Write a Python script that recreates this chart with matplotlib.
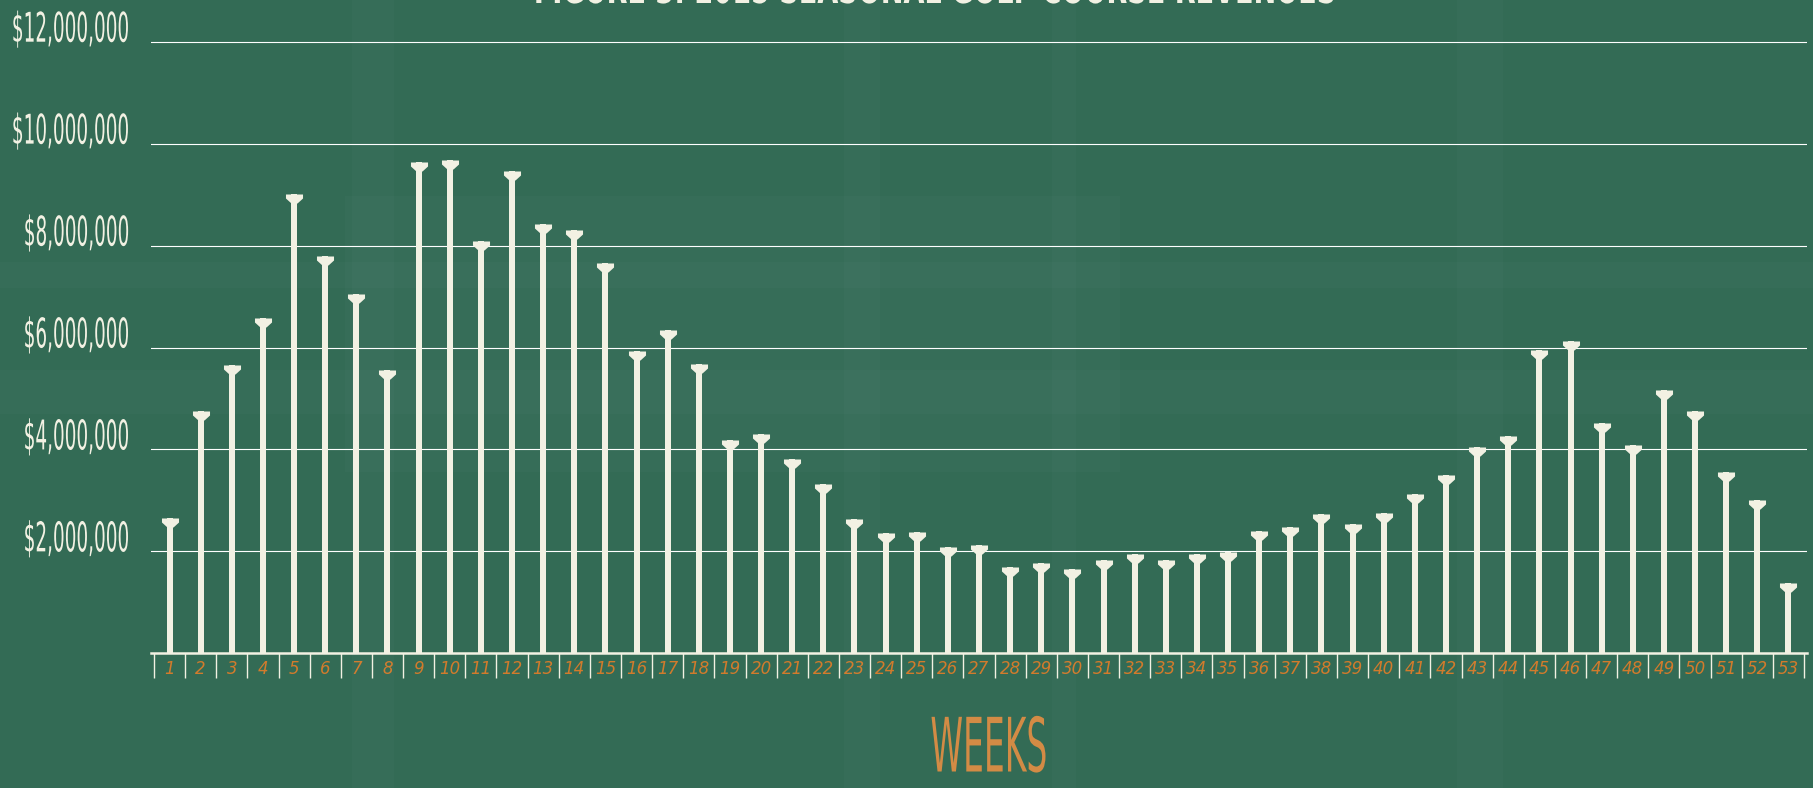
import numpy as np
import matplotlib
matplotlib.use("Agg")
import matplotlib.pyplot as plt
from matplotlib.path import Path
from matplotlib.patches import Rectangle
from matplotlib.text import Text
from matplotlib.transforms import Affine2D, Bbox
from matplotlib import patheffects

# weekly revenue, in millions of dollars
weeks = list(range(1, 54))
revenue_m = [2.65, 4.76, 5.66, 6.57, 9.01, 7.79, 7.04, 5.55, 9.63, 9.67,
             8.09, 9.47, 8.43, 8.31, 7.66, 5.93, 6.34, 5.68, 4.19, 4.30,
             3.81, 3.33, 2.63, 2.36, 2.38, 2.08, 2.13, 1.70, 1.77, 1.65,
             1.83, 1.95, 1.83, 1.95, 1.99, 2.40, 2.47, 2.74, 2.54, 2.76,
             3.13, 3.49, 4.05, 4.26, 5.96, 6.12, 4.51, 4.08, 5.16, 4.76,
             3.56, 3.01, 1.38]
revenue = np.array(revenue_m) * 1e6

y_ticks = [2e6, 4e6, 6e6, 8e6, 10e6, 12e6]
y_labels = ["$2,000,000", "$4,000,000", "$6,000,000", "$8,000,000",
            "$10,000,000", "$12,000,000"]
title = "FIGURE 3: 2015 SEASONAL GOLF COURSE REVENUES"
x_title = "WEEKS"

BG = "#336b55"
CREAM = "#f2f1e3"
ORANGE = "#d27b2c"
ORANGE_LIGHT = "#d38b45"


class Squeeze(patheffects.AbstractPathEffect):
    """Draw text glyphs narrower, keeping one side of the string fixed."""

    def __init__(self, sx, side="center"):
        super().__init__()
        self.sx = sx
        self.side = side

    def draw_path(self, renderer, gc, tpath, affine, rgbFace=None):
        if len(tpath.vertices) == 0:
            return
        xs = affine.transform(tpath.vertices)[:, 0]
        ref = {"left": xs.min(), "right": xs.max()}.get(self.side, (xs.min() + xs.max()) / 2)
        narrow = Affine2D().translate(-ref, 0).scale(self.sx, 1).translate(ref, 0)
        renderer.draw_path(gc, tpath, affine + narrow, rgbFace)


class NarrowText(Text):
    """Condensed text: glyphs and reported extent both squeezed by sx."""

    def __init__(self, x, y, s, sx=0.5, **kw):
        super().__init__(x, y, s, **kw)
        self.sx = sx
        self.set_path_effects([Squeeze(sx, self.get_horizontalalignment())])

    def get_window_extent(self, renderer=None, dpi=None):
        bb = super().get_window_extent(renderer, dpi)
        ha = self.get_horizontalalignment()
        ref = {"left": bb.x0, "right": bb.x1}.get(ha, (bb.x0 + bb.x1) / 2)
        return Bbox([[ref + (bb.x0 - ref) * self.sx, bb.y0],
                     [ref + (bb.x1 - ref) * self.sx, bb.y1]])


W, H = 1813, 788
fig = plt.figure(figsize=(W / 100, H / 100), dpi=100, facecolor=BG)

# faint plaid in the backdrop (pixel boxes: x, y-from-top, w, h)
plaid = [(352, 0, 42, 788), (844, 0, 36, 788), (1052, 0, 24, 788), (1457, 0, 46, 788),
         (0, 262, 1813, 26), (0, 370, 1813, 44), (345, 196, 775, 276)]
for x, y, w, h in plaid:
    fig.patches.append(Rectangle((x / W, 1 - (y + h) / H), w / W, h / H,
                                 transform=fig.transFigure, color="white",
                                 alpha=0.018, lw=0, zorder=0))

# axes placed in pixels: x=0.5 divider at 154px, baseline at 653px, 12M line at 42px
px_per_week = 31.13
left_px, right_px = 151, 1807
base_px, top12_px = 653.3, 41.7
ymax = 12.3e6
top_px = base_px - (base_px - top12_px) * ymax / 12e6
ax = fig.add_axes([left_px / W, (H - base_px) / H,
                   (right_px - left_px) / W, (base_px - top_px) / H])
ax.set_facecolor("none")
ax.set_xlim(0.5 - (154 - left_px) / px_per_week, 53.5 + (right_px - 1804) / px_per_week)
ax.set_ylim(0, ymax)

# stems
ax.bar(weeks, revenue, width=6 / px_per_week, color=CREAM, zorder=3)

# tee-shaped caps on top of each stem (top edge sits on the value)
cap = Path([(-8.5, 0), (8.5, 0), (8.5, -4), (3, -9), (-3, -9), (-8.5, -4), (-8.5, 0)],
           closed=True)
ax.plot(weeks, revenue, ls="none", marker=cap, markersize=13,
        color=CREAM, markeredgewidth=0, zorder=4)

# grid and frame
ax.set_yticks(y_ticks)
ax.yaxis.grid(True, color="white", lw=0.8)
ax.set_axisbelow(True)
for side in ["top", "right", "left"]:
    ax.spines[side].set_visible(False)
ax.spines["bottom"].set_color(CREAM)
ax.spines["bottom"].set_linewidth(1.8)
ax.spines["bottom"].set_zorder(5)
ax.tick_params(axis="y", length=0, labelleft=False)

# dollar labels sit on their grid lines, right-aligned 20px left of the plot
for val, lab in zip(y_ticks, y_labels):
    fig.add_artist(NarrowText(-20 / (right_px - left_px), val, lab, sx=0.45,
                              transform=ax.get_yaxis_transform(),
                              ha="right", va="baseline", fontsize=29.5,
                              color=CREAM, family="DejaVu Sans"))

# week labels centred in cells, dividers between cells
ax.set_xticks(weeks, [str(w) for w in weeks])
ax.set_xticks(np.arange(0.5, 54, 1), minor=True)
ax.tick_params(axis="x", which="major", length=0, pad=5, labelsize=12, labelcolor=ORANGE)
ax.tick_params(axis="x", which="minor", length=18, width=1, color=CREAM, direction="out")
for lab in ax.get_xticklabels():
    lab.set_fontfamily("DejaVu Sans")
    lab.set_fontstyle("oblique")

fig.add_artist(NarrowText(990 / W, 0.5 / H, x_title, sx=0.44, ha="center", va="bottom",
                          fontsize=54, color=ORANGE_LIGHT, family="DejaVu Sans",
                          transform=fig.transFigure))

fig.add_artist(NarrowText(936 / W, 1 - 3 / H, title, sx=0.65, ha="center", va="baseline",
                          fontsize=30, fontweight="bold", color=CREAM, family="DejaVu Sans",
                          transform=fig.transFigure))

fig.savefig("out.png", dpi=100, facecolor=BG)
